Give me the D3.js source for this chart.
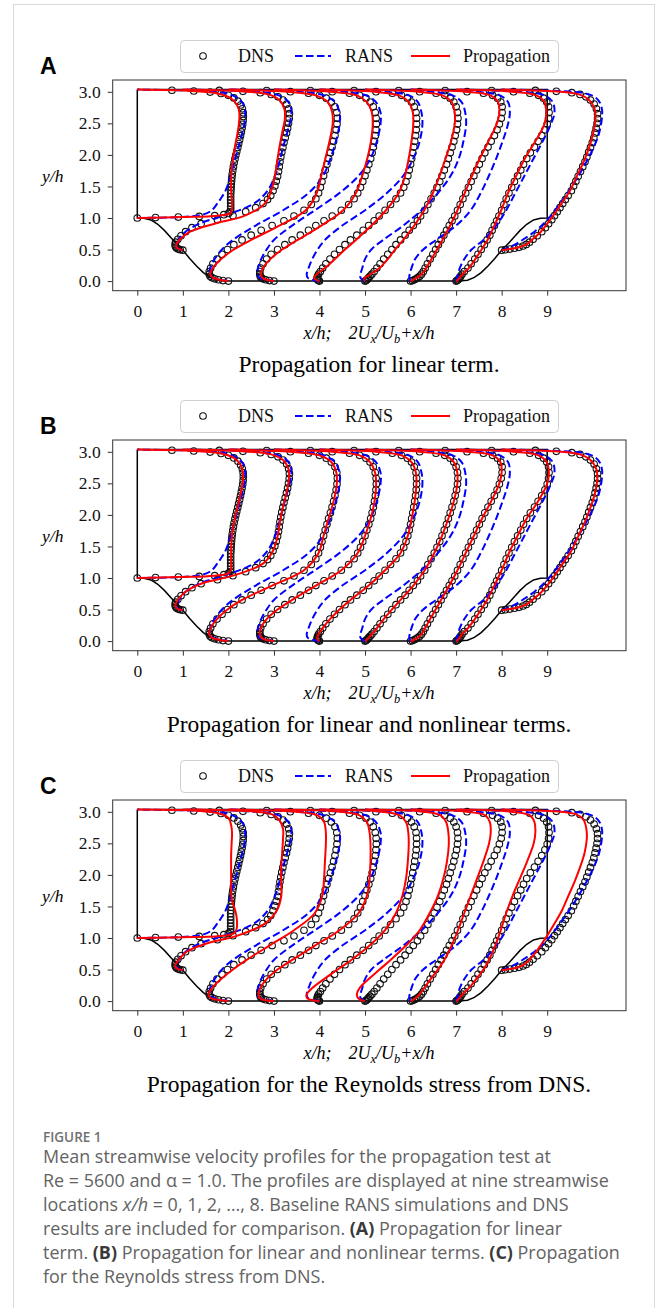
<!DOCTYPE html>
<html>
<head>
<meta charset="utf-8">
<script src="https://cdn.jsdelivr.net/npm/d3@7"></script>
<style>
  body { margin: 0; background: #fff; }
</style>
</head>
<body>
<div id="Area"></div>
<script>
// ---- data ----
// streamwise stations x/h, the wall height under each one and the top wall
const stations = [0, 1, 2, 3, 4, 5, 6, 7, 8];
const stationFloor = [1.0, 0.49, 0, 0, 0, 0, 0, 0, 0.49];
const topWall = 3.035;

// hill shape (left hill, the right one is its mirror about x/h = 4.5)
const hillX = [0, 0.15, 0.3, 0.45, 0.6, 0.75, 0.9, 1.0, 1.15, 1.3, 1.45, 1.6, 1.75, 1.93];
const hillY = [1, 0.996, 0.97, 0.9, 0.8, 0.68, 0.56, 0.49, 0.36, 0.24, 0.135, 0.06, 0.015, 0];

// wall-normal sampling, as a fraction of the local channel height
const etaDNS = [0, 0.003, 0.007, 0.012, 0.018, 0.026, 0.036, 0.05, 0.068, 0.09,
  0.115, 0.14, 0.165, 0.19, 0.215, 0.24, 0.265, 0.29, 0.315, 0.34,
  0.37, 0.4, 0.43, 0.46, 0.49, 0.52, 0.55, 0.58, 0.61, 0.64,
  0.67, 0.7, 0.73, 0.76, 0.79, 0.82, 0.85, 0.88, 0.91, 0.935,
  0.955, 0.97, 0.981, 0.989, 0.995];
const etaLine = [0, 0.007, 0.018, 0.036, 0.068, 0.115, 0.165, 0.215, 0.29, 0.37,
  0.46, 0.55, 0.64, 0.73, 0.82, 0.88, 0.935, 0.97, 0.989, 1];

// U/Ub, one row per station
const dnsU = [
  [0, 0.2, 0.45, 0.68, 0.85, 0.95, 1.0, 1.02, 1.025, 1.025, 1.025, 1.025, 1.025, 1.025, 1.028, 1.03, 1.032, 1.035, 1.038, 1.042, 1.048, 1.055, 1.063, 1.072, 1.082, 1.092, 1.103, 1.113, 1.123, 1.133, 1.142, 1.15, 1.157, 1.162, 1.164, 1.162, 1.153, 1.135, 1.105, 1.06, 1.0, 0.92, 0.8, 0.62, 0.38],
  [0, -0.03, -0.05, -0.065, -0.075, -0.082, -0.085, -0.08, -0.055, -0.02, 0.03, 0.1, 0.2, 0.38, 0.55, 0.69, 0.8, 0.88, 0.93, 0.965, 0.99, 1.01, 1.025, 1.04, 1.05, 1.058, 1.066, 1.075, 1.086, 1.098, 1.11, 1.124, 1.138, 1.15, 1.16, 1.168, 1.17, 1.162, 1.14, 1.1, 1.045, 0.97, 0.85, 0.66, 0.4],
  [0, -0.06, -0.11, -0.15, -0.18, -0.2, -0.21, -0.21, -0.195, -0.17, -0.125, -0.07, -0.01, 0.06, 0.15, 0.25, 0.36, 0.48, 0.61, 0.72, 0.83, 0.91, 0.96, 0.99, 1.01, 1.027, 1.045, 1.063, 1.082, 1.1, 1.12, 1.138, 1.155, 1.17, 1.183, 1.192, 1.196, 1.19, 1.17, 1.13, 1.075, 1.0, 0.88, 0.68, 0.42],
  [0, -0.05, -0.09, -0.12, -0.14, -0.15, -0.155, -0.155, -0.145, -0.12, -0.08, -0.03, 0.04, 0.12, 0.2, 0.29, 0.38, 0.46, 0.55, 0.64, 0.74, 0.82, 0.88, 0.92, 0.95, 0.975, 1.0, 1.02, 1.042, 1.062, 1.078, 1.092, 1.104, 1.114, 1.12, 1.124, 1.122, 1.112, 1.09, 1.055, 1.01, 0.94, 0.83, 0.64, 0.4],
  [0, -0.01, -0.02, -0.025, -0.025, -0.02, -0.01, 0.01, 0.035, 0.07, 0.115, 0.165, 0.22, 0.28, 0.34, 0.41, 0.48, 0.54, 0.6, 0.655, 0.72, 0.78, 0.84, 0.89, 0.925, 0.95, 0.97, 0.985, 1.0, 1.012, 1.024, 1.035, 1.045, 1.055, 1.062, 1.066, 1.066, 1.06, 1.04, 1.01, 0.965, 0.9, 0.8, 0.62, 0.38],
  [0, 0.01, 0.02, 0.03, 0.04, 0.055, 0.075, 0.1, 0.13, 0.165, 0.205, 0.25, 0.295, 0.34, 0.39, 0.44, 0.485, 0.53, 0.575, 0.61, 0.655, 0.69, 0.725, 0.76, 0.79, 0.82, 0.845, 0.87, 0.895, 0.915, 0.935, 0.955, 0.975, 0.99, 1.005, 1.015, 1.02, 1.015, 1.0, 0.975, 0.935, 0.875, 0.78, 0.6, 0.37],
  [0, 0.02, 0.04, 0.06, 0.08, 0.1, 0.12, 0.14, 0.16, 0.185, 0.215, 0.245, 0.275, 0.305, 0.335, 0.365, 0.395, 0.425, 0.455, 0.485, 0.515, 0.545, 0.575, 0.605, 0.635, 0.665, 0.695, 0.725, 0.755, 0.785, 0.815, 0.85, 0.885, 0.92, 0.95, 0.975, 0.995, 1.005, 1.005, 0.99, 0.955, 0.9, 0.8, 0.62, 0.38],
  [0, 0.01, 0.02, 0.03, 0.04, 0.05, 0.065, 0.09, 0.13, 0.165, 0.205, 0.24, 0.275, 0.31, 0.34, 0.37, 0.395, 0.42, 0.445, 0.47, 0.5, 0.525, 0.55, 0.58, 0.61, 0.64, 0.675, 0.71, 0.74, 0.775, 0.815, 0.86, 0.9, 0.94, 0.975, 1.0, 1.015, 1.02, 1.015, 0.995, 0.96, 0.905, 0.81, 0.63, 0.39],
  [0, 0.04, 0.09, 0.14, 0.19, 0.235, 0.27, 0.305, 0.345, 0.39, 0.44, 0.48, 0.515, 0.55, 0.58, 0.61, 0.64, 0.67, 0.7, 0.73, 0.765, 0.79, 0.815, 0.84, 0.865, 0.89, 0.915, 0.935, 0.955, 0.975, 0.995, 1.012, 1.025, 1.037, 1.047, 1.053, 1.053, 1.04, 1.015, 0.975, 0.925, 0.86, 0.77, 0.6, 0.37]
];

const ransU = [
  [0, 0.45, 0.65, 0.76, 0.83, 0.88, 0.93, 0.97, 1.01, 1.04, 1.075, 1.11, 1.145, 1.175, 1.185, 1.17, 1.1, 0.98, 0.72, 0],
  [0, -0.04, -0.06, -0.06, -0.04, 0.03, 0.18, 0.45, 0.78, 0.93, 1.01, 1.06, 1.1, 1.145, 1.185, 1.19, 1.14, 1.02, 0.72, 0],
  [0, -0.1, -0.17, -0.2, -0.2, -0.15, -0.07, 0.05, 0.3, 0.6, 0.88, 1.04, 1.12, 1.18, 1.22, 1.22, 1.17, 1.05, 0.74, 0],
  [0, -0.1, -0.16, -0.18, -0.175, -0.14, -0.08, 0, 0.2, 0.45, 0.72, 0.93, 1.06, 1.13, 1.17, 1.17, 1.12, 1.01, 0.72, 0],
  [0, -0.08, -0.13, -0.14, -0.12, -0.08, -0.02, 0.06, 0.25, 0.5, 0.74, 0.92, 1.03, 1.1, 1.13, 1.12, 1.08, 0.98, 0.7, 0],
  [0, -0.03, -0.05, -0.05, -0.03, 0, 0.07, 0.2, 0.42, 0.62, 0.8, 0.94, 1.03, 1.08, 1.11, 1.1, 1.06, 0.96, 0.69, 0],
  [0, -0.01, -0.015, -0.01, 0.01, 0.05, 0.14, 0.28, 0.5, 0.66, 0.77, 0.86, 0.94, 1.01, 1.07, 1.09, 1.07, 0.98, 0.7, 0],
  [0, 0, 0.01, 0.02, 0.04, 0.09, 0.17, 0.3, 0.44, 0.55, 0.65, 0.75, 0.85, 0.95, 1.04, 1.08, 1.06, 0.97, 0.7, 0],
  [0, 0.04, 0.09, 0.15, 0.24, 0.36, 0.46, 0.54, 0.64, 0.74, 0.84, 0.93, 1.01, 1.07, 1.1, 1.1, 1.06, 0.96, 0.69, 0]
];

// propagation, panel A: linear term
const propLinearU = [
  [0, 0.5, 0.88, 1.02, 1.04, 1.04, 1.035, 1.03, 1.03, 1.035, 1.05, 1.07, 1.095, 1.115, 1.12, 1.095, 1.02, 0.88, 0.6, 0],
  [0, -0.04, -0.07, -0.07, -0.03, 0.08, 0.35, 0.68, 0.9, 0.97, 1.01, 1.035, 1.06, 1.09, 1.12, 1.115, 1.06, 0.94, 0.64, 0],
  [0, -0.1, -0.17, -0.2, -0.17, -0.08, 0.06, 0.25, 0.56, 0.85, 0.97, 1.02, 1.065, 1.11, 1.145, 1.14, 1.09, 0.96, 0.65, 0],
  [0, -0.08, -0.13, -0.14, -0.12, -0.04, 0.09, 0.26, 0.52, 0.76, 0.9, 0.97, 1.025, 1.065, 1.085, 1.075, 1.02, 0.91, 0.62, 0],
  [0, -0.04, -0.06, -0.03, 0.06, 0.17, 0.28, 0.4, 0.57, 0.73, 0.87, 0.94, 0.98, 1.01, 1.03, 1.025, 0.98, 0.87, 0.6, 0],
  [0, -0.01, 0, 0.06, 0.16, 0.25, 0.33, 0.42, 0.54, 0.65, 0.745, 0.82, 0.885, 0.945, 0.985, 0.985, 0.95, 0.85, 0.58, 0],
  [0, 0.03, 0.07, 0.12, 0.17, 0.23, 0.29, 0.35, 0.435, 0.515, 0.595, 0.675, 0.76, 0.855, 0.945, 0.975, 0.96, 0.875, 0.6, 0],
  [0, 0.02, 0.04, 0.07, 0.14, 0.21, 0.28, 0.345, 0.42, 0.495, 0.57, 0.66, 0.755, 0.87, 0.97, 0.99, 0.97, 0.88, 0.61, 0],
  [0, 0.09, 0.19, 0.27, 0.34, 0.43, 0.5, 0.565, 0.655, 0.75, 0.825, 0.9, 0.96, 1.005, 1.03, 1.02, 0.96, 0.85, 0.59, 0]
];

// propagation, panel B: linear and nonlinear terms
const propNonlinearU = [
  [0, 0.45, 0.85, 1.0, 1.03, 1.03, 1.03, 1.03, 1.035, 1.045, 1.07, 1.1, 1.13, 1.155, 1.16, 1.135, 1.06, 0.92, 0.62, 0],
  [0, -0.05, -0.075, -0.08, -0.05, 0.03, 0.2, 0.55, 0.88, 0.99, 1.04, 1.066, 1.098, 1.138, 1.165, 1.16, 1.1, 0.97, 0.66, 0],
  [0, -0.11, -0.18, -0.21, -0.195, -0.125, -0.01, 0.15, 0.48, 0.83, 0.99, 1.045, 1.1, 1.155, 1.19, 1.185, 1.13, 1.0, 0.68, 0],
  [0, -0.09, -0.14, -0.155, -0.145, -0.08, 0.04, 0.2, 0.46, 0.74, 0.92, 1.0, 1.062, 1.104, 1.122, 1.11, 1.055, 0.94, 0.64, 0],
  [0, -0.02, -0.025, -0.01, 0.035, 0.115, 0.22, 0.34, 0.54, 0.72, 0.89, 0.97, 1.012, 1.045, 1.064, 1.058, 1.01, 0.9, 0.62, 0],
  [0, 0.02, 0.04, 0.075, 0.13, 0.205, 0.295, 0.39, 0.53, 0.655, 0.76, 0.845, 0.915, 0.975, 1.013, 1.013, 0.975, 0.875, 0.6, 0],
  [0, 0.04, 0.08, 0.12, 0.16, 0.215, 0.275, 0.335, 0.425, 0.515, 0.605, 0.695, 0.785, 0.885, 0.972, 1.0, 0.985, 0.9, 0.62, 0],
  [0, 0.02, 0.04, 0.065, 0.13, 0.205, 0.275, 0.34, 0.42, 0.5, 0.58, 0.675, 0.775, 0.9, 0.998, 1.018, 0.993, 0.905, 0.63, 0],
  [0, 0.09, 0.19, 0.27, 0.345, 0.44, 0.515, 0.58, 0.67, 0.765, 0.84, 0.915, 0.975, 1.025, 1.05, 1.038, 0.975, 0.86, 0.6, 0]
];

// propagation, panel C: Reynolds stress from DNS
const propReynoldsU = [
  [0, 0.6, 0.95, 1.06, 1.09, 1.095, 1.09, 1.075, 1.04, 1.03, 1.03, 1.03, 1.03, 1.035, 1.04, 1.03, 1.0, 0.9, 0.7, 0],
  [0, -0.05, -0.08, -0.08, -0.04, 0.04, 0.25, 0.6, 0.9, 1.03, 1.08, 1.08, 1.08, 1.09, 1.1, 1.1, 1.06, 0.98, 0.75, 0],
  [0, -0.12, -0.2, -0.22, -0.18, -0.08, 0.05, 0.2, 0.45, 0.72, 0.95, 1.03, 1.05, 1.06, 1.07, 1.07, 1.05, 0.98, 0.75, 0],
  [0, -0.12, -0.16, -0.17, -0.15, -0.08, 0.04, 0.2, 0.45, 0.72, 0.93, 1.02, 1.05, 1.06, 1.06, 1.05, 1.02, 0.94, 0.72, 0],
  [0, -0.1, -0.14, -0.14, -0.08, 0.05, 0.2, 0.35, 0.55, 0.72, 0.84, 0.91, 0.95, 0.97, 0.98, 0.975, 0.95, 0.88, 0.68, 0],
  [0, -0.05, -0.08, -0.09, -0.06, 0.04, 0.16, 0.28, 0.45, 0.6, 0.71, 0.8, 0.86, 0.9, 0.92, 0.915, 0.89, 0.83, 0.64, 0],
  [0, 0.03, 0.06, 0.1, 0.15, 0.22, 0.3, 0.37, 0.45, 0.52, 0.59, 0.66, 0.73, 0.8, 0.86, 0.88, 0.87, 0.82, 0.62, 0],
  [0, 0.02, 0.04, 0.07, 0.14, 0.22, 0.3, 0.36, 0.43, 0.49, 0.55, 0.62, 0.7, 0.78, 0.85, 0.87, 0.86, 0.81, 0.6, 0],
  [0, 0.09, 0.18, 0.25, 0.31, 0.38, 0.44, 0.5, 0.58, 0.66, 0.73, 0.8, 0.86, 0.91, 0.935, 0.93, 0.9, 0.82, 0.6, 0]
];

const xTicks = [0, 1, 2, 3, 4, 5, 6, 7, 8, 9];
const yTicks = [0, 0.5, 1.0, 1.5, 2.0, 2.5, 3.0];
const panelLetters = ["A", "B", "C"];
const panelTitles = ["Propagation for linear term.",
                     "Propagation for linear and nonlinear terms.",
                     "Propagation for the Reynolds stress from DNS."];
const panelProp = [propLinearU, propNonlinearU, propReynoldsU];
const legendLabels = ["DNS", "RANS", "Propagation"];

// ---- drawing ----
const W = 656, H = 1308;
const serif = "'Liberation Serif', 'Times New Roman', serif";
const velScale = 2;   // profiles drawn as 2 U/Ub + x/h

var sVg = d3.select("#Area").append("svg")
    .attr("width", W)
    .attr("height", H)
    .style("font-family", serif);

sVg.append("rect").attr("width", W).attr("height", H).attr("fill", "#fff");
// light frame round the whole figure
sVg.append("rect")
    .attr("x", 13.5).attr("y", 4.5).attr("width", 641).attr("height", 1330)
    .attr("fill", "none").attr("stroke", "#d9d9d9");

var box = {left: 112.7, right: 626, top: 80, bottom: 290.7};
const x = d3.scaleLinear().domain([-0.54, 10.73]).range([box.left, box.right]);

function profile(rows, eta, s) {
  const y0 = stationFloor[s];
  return eta.map(function(e, i) {
    return [stations[s] + velScale * rows[s][i], y0 + e * (topWall - y0)];
  });
}

// channel outline: top wall, left wall, hill, flat bottom, mirrored hill, right wall
const outline = [[0, topWall]];
hillX.forEach(function(d, i) { outline.push([d, hillY[i]]); });
for (let i = hillX.length - 1; i >= 0; i--) outline.push([9 - hillX[i], hillY[i]]);
outline.push([9, topWall]);
outline.push([0, topWall]);

panelTitles.forEach(function(title, k) {
  const oy = 360 * k;
  const y = d3.scaleLinear().domain([-0.152, 3.187]).range([box.bottom + oy, box.top + oy]);
  const g = sVg.append("g");

  const smooth = d3.line()
      .x(function(d) { return x(d[0]); })
      .y(function(d) { return y(d[1]); })
      .curve(d3.curveCatmullRom.alpha(0.5));
  const straight = d3.line()
      .x(function(d) { return x(d[0]); })
      .y(function(d) { return y(d[1]); });

  // geometry
  g.append("path")
      .attr("d", straight(outline))
      .attr("fill", "none")
      .attr("stroke", "#000")
      .attr("stroke-width", 1.5);

  // DNS circles
  stations.forEach(function(st, s) {
    g.append("g").selectAll("circle")
      .data(profile(dnsU, etaDNS, s))
      .join("circle")
        .attr("cx", function(d) { return x(d[0]); })
        .attr("cy", function(d) { return y(d[1]); })
        .attr("r", 3.3)
        .attr("fill", "none")
        .attr("stroke", "#111")
        .attr("stroke-width", 1.1);
  });

  // RANS
  stations.forEach(function(st, s) {
    g.append("path")
      .attr("d", smooth(profile(ransU, etaLine, s)))
      .attr("fill", "none")
      .attr("stroke", "#0000ff")
      .attr("stroke-width", 2)
      .attr("stroke-dasharray", "7.5,3.5");
  });

  // Propagation
  stations.forEach(function(st, s) {
    g.append("path")
      .attr("d", smooth(profile(panelProp[k], etaLine, s)))
      .attr("fill", "none")
      .attr("stroke", "#ff0000")
      .attr("stroke-width", 2);
  });

  // axes
  const xAxis = g.append("g")
      .attr("transform", "translate(0," + (box.bottom + oy) + ")")
      .call(d3.axisBottom(x).tickValues(xTicks).tickSize(5).tickPadding(8.5).tickFormat(d3.format("d")));
  const yAxis = g.append("g")
      .attr("transform", "translate(" + box.left + ",0)")
      .call(d3.axisLeft(y).tickValues(yTicks).tickSize(5).tickPadding(7).tickFormat(d3.format(".1f")));
  [xAxis, yAxis].forEach(function(a) {
    a.select(".domain").remove();
    a.attr("font-family", null).attr("font-size", null);
    a.selectAll("line").attr("stroke", "#333");
    a.selectAll("text").style("font-family", serif).style("font-size", "17.5px").attr("fill", "#111");
  });

  g.append("rect")
      .attr("x", box.left).attr("y", box.top + oy)
      .attr("width", box.right - box.left).attr("height", box.bottom - box.top)
      .attr("fill", "none").attr("stroke", "#333").attr("stroke-width", 1);

  // y label
  g.append("text")
      .attr("x", 42).attr("y", 182 + oy)
      .style("font-style", "italic").style("font-size", "17.5px")
      .text("y/h");

  // x label
  const xl = g.append("text")
      .attr("x", 369).attr("y", 339 + oy)
      .attr("text-anchor", "middle")
      .style("font-style", "italic").style("font-size", "18px");
  xl.append("tspan").text("x/h;");
  xl.append("tspan").attr("dx", 17).text("2U");
  xl.append("tspan").attr("dy", 4).style("font-size", "12.5px").text("x");
  xl.append("tspan").attr("dy", -4).text("/U");
  xl.append("tspan").attr("dy", 4).style("font-size", "12.5px").text("b");
  xl.append("tspan").attr("dy", -4).text("+x/h");

  // sub title
  g.append("text")
      .attr("x", 369).attr("y", 372 + oy)
      .attr("text-anchor", "middle")
      .style("font-size", "23.5px")
      .text(title);

  // panel letter
  g.append("text")
      .attr("x", 40).attr("y", 74 + oy)
      .style("font-family", "'Liberation Sans', Arial, sans-serif")
      .style("font-weight", "bold").style("font-size", "23px")
      .text(panelLetters[k]);

  // legend
  const lg = g.append("g").attr("transform", "translate(0," + oy + ")");
  lg.append("rect")
      .attr("x", 180.5).attr("y", 40.5).attr("width", 378).attr("height", 32).attr("rx", 4)
      .attr("fill", "#fff").attr("stroke", "#cfcfcf");
  lg.append("circle").attr("cx", 203).attr("cy", 56).attr("r", 3.3)
      .attr("fill", "none").attr("stroke", "#111").attr("stroke-width", 1.1);
  lg.append("line").attr("x1", 295).attr("x2", 331).attr("y1", 56).attr("y2", 56)
      .attr("stroke", "#0000ff").attr("stroke-width", 2).attr("stroke-dasharray", "7.5,3.5");
  lg.append("line").attr("x1", 411).attr("x2", 450).attr("y1", 56).attr("y2", 56)
      .attr("stroke", "#ff0000").attr("stroke-width", 2);
  [238, 345, 463].forEach(function(lx, i) {
    lg.append("text").attr("x", lx).attr("y", 62)
      .style("font-size", "18px").attr("fill", "#111")
      .text(legendLabels[i]);
  });
});

// ---- caption ----
const sans = "'Open Sans', 'Noto Sans', sans-serif";
sVg.append("text")
    .attr("x", 43).attr("y", 1142)
    .style("font-family", sans).style("font-size", "13.5px").style("font-weight", 600)
    .attr("fill", "#707070")
    .text("FIGURE 1");

const captionLines = [
  [["Mean streamwise velocity profiles for the propagation test at", ""]],
  [["Re = 5600 and \u03b1 = 1.0. The profiles are displayed at nine streamwise", ""]],
  [["locations ", ""], ["x/h", "i"], [" = 0, 1, 2, \u2026, 8. Baseline RANS simulations and DNS", ""]],
  [["results are included for comparison. ", ""], ["(A)", "b"], [" Propagation for linear", ""]],
  [["term. ", ""], ["(B)", "b"], [" Propagation for linear and nonlinear terms. ", ""], ["(C)", "b"], [" Propagation", ""]],
  [["for the Reynolds stress from DNS.", ""]]
];
const capText = [];
captionLines.forEach(function(parts, i) {
  const t = sVg.append("text")
      .attr("x", 43).attr("y", 1163 + 24 * i)
      .style("font-family", sans).style("font-size", "16px")
      .attr("fill", "#636363");
  parts.forEach(function(p) {
    const ts = t.append("tspan").text(p[0]);
    if (p[1] === "i") ts.style("font-style", "italic");
    if (p[1] === "b") ts.style("font-weight", 700).attr("fill", "#3a3a3a");
  });
  capText.push(t);
});
// fit the caption width to the printed column
const wantW = 566;
const gotW = capText[1].node().getComputedTextLength();
const fs = 16 * wantW / gotW;
capText.forEach(function(t) { t.style("font-size", fs.toFixed(2) + "px"); });
</script>
</body>
</html>
